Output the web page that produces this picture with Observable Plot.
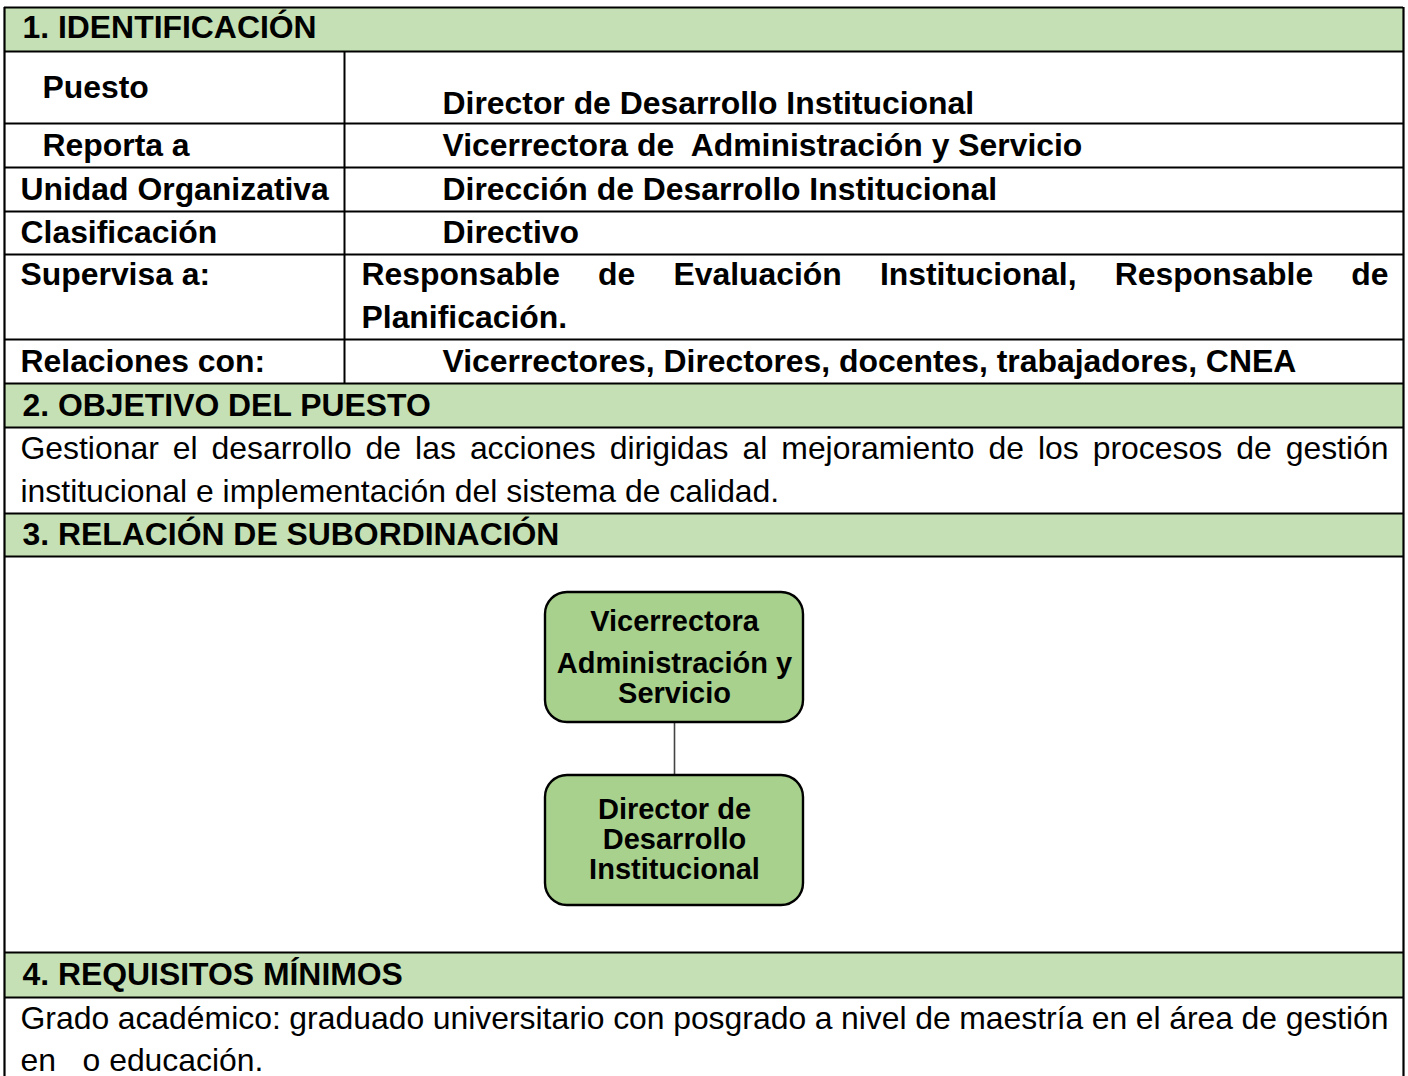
<!DOCTYPE html>
<html>
<head>
<meta charset="utf-8">
<script src="https://cdn.jsdelivr.net/npm/d3@7"></script>
<script src="https://cdn.jsdelivr.net/npm/@observablehq/plot@0.6"></script>
<style>
  html, body { margin: 0; padding: 0; background: #fff; }
  svg { display: block; }
</style>
</head>
<body>
<div id="chart"></div>
<script>
// ---------- DATA (text content) ----------
const sectionTitles = [
  "1. IDENTIFICACIÓN",
  "2. OBJETIVO DEL PUESTO",
  "3. RELACIÓN DE SUBORDINACIÓN",
  "4. REQUISITOS MÍNIMOS"
];
const fieldLabels = ["Puesto", "Reporta a", "Unidad Organizativa", "Clasificación", "Supervisa a:", "Relaciones con:"];
const fieldValues = [
  "Director de Desarrollo Institucional",
  "Vicerrectora de\u00a0 Administración y Servicio",
  "Dirección de Desarrollo Institucional",
  "Directivo",
  "Responsable de Evaluación Institucional, Responsable de|Planificación.",
  "Vicerrectores, Directores, docentes, trabajadores, CNEA"
];
const objetivoLines = [
  "Gestionar el desarrollo de las acciones dirigidas al mejoramiento de los procesos de gestión",
  "institucional e implementación del sistema de calidad."
];
const requisitosLines = [
  "Grado académico: graduado universitario con posgrado a nivel de maestría en el área de gestión",
  "en\u00a0\u00a0 o educación."
];
const orgNodes = [
  ["Vicerrectora", "Administración y", "Servicio"],
  ["Director de", "Desarrollo", "Institucional"]
];

// ---------- LAYOUT (positions / sizes / styles) ----------
const W = 1408, H = 1076;
const LEFT = 4, RIGHT = 1403, DIVIDER = 344, JUSTIFY_RIGHT = 1388;
const rowLines = [7, 51, 123, 167, 211, 254, 339, 383, 427, 513, 556, 952, 997, 1080];
const headerBands = [[7, 51], [383, 427], [513, 556], [952, 997]];
const headerTextY = [27, 405, 534, 974];
const labelX = [42, 42, 20, 20, 20, 20];
const labelY = [87, 145, 189, 232, 274, 361];
const valueX = [442, 442, 442, 442, 361, 442];
const valueY = [[103], [145], [189], [232], [274, 317], [361]];
const objetivoY = [448, 491];
const requisitosY = [1018, 1060];
const boxes = [{x1: 545, x2: 803, y1: 592, y2: 722}, {x1: 545, x2: 803, y1: 775, y2: 905}];
const boxLineY = [[621, 663, 693], [809, 839, 869]];
const GREEN_HEAD = "#c5e0b4", GREEN_BOX = "#a9d18e";
const FS = 31.9, FS_BOX = 29;
const FONT = "'Liberation Sans', Arial, Helvetica, sans-serif";

// build tables
const headerTexts = sectionTitles.map((t, i) => ({t, x: 22, y: headerTextY[i]}));
const labelTexts = fieldLabels.map((t, i) => ({t, x: labelX[i], y: labelY[i]}));
const valuePlain = [];
const valueJust = [];
fieldValues.forEach((v, i) => {
  const parts = v.split("|");
  parts.forEach((p, j) => {
    const rec = {t: p, x: valueX[i], y: valueY[i][j]};
    if (parts.length > 1 && j < parts.length - 1) valueJust.push(rec); else valuePlain.push(rec);
  });
});
const bodyJust = [
  {t: objetivoLines[0], x: 20, y: objetivoY[0]},
  {t: requisitosLines[0], x: 20, y: requisitosY[0]}
];
const bodyPlain = [
  {t: objetivoLines[1], x: 20, y: objetivoY[1]},
  {t: requisitosLines[1], x: 20, y: requisitosY[1]}
];
const justifiedSet = new Set([...valueJust, ...bodyJust].map(d => d.t));
const boxTexts = orgNodes.flatMap((lines, b) => lines.map((t, k) => ({t, x: (boxes[b].x1 + boxes[b].x2) / 2, y: boxLineY[b][k]})));
const connector = [{x: (boxes[0].x1 + boxes[0].x2) / 2, y1: boxes[0].y2, y2: boxes[1].y1}];

const plot = Plot.plot({
  width: W,
  height: H,
  margin: 0,
  x: {domain: [0, W], range: [0, W], axis: null},
  y: {domain: [0, H], range: [0, H], axis: null},
  style: {fontFamily: FONT, background: "#fff", overflow: "visible"},
  marks: [
    Plot.rect(headerBands, {x1: LEFT, x2: RIGHT, y1: d => d[0], y2: d => d[1], fill: GREEN_HEAD}),
    Plot.ruleY(rowLines, {x1: LEFT, x2: RIGHT, stroke: "#000", strokeWidth: 2.2}),
    Plot.ruleX([LEFT, RIGHT], {y1: rowLines[0], y2: H + 5, stroke: "#000", strokeWidth: 2.2}),
    Plot.ruleX([DIVIDER], {y1: rowLines[1], y2: rowLines[7], stroke: "#000", strokeWidth: 2}),
    Plot.ruleX(connector, {x: "x", y1: "y1", y2: "y2", stroke: "#444", strokeWidth: 1.6}),
    Plot.rect(boxes, {x1: "x1", x2: "x2", y1: "y1", y2: "y2", fill: GREEN_BOX, stroke: "#000", strokeWidth: 2.4, rx: 22}),
    Plot.text(headerTexts, {x: "x", y: "y", text: "t", textAnchor: "start", lineAnchor: "middle", fontSize: FS, fontWeight: "bold", fill: "#000"}),
    Plot.text(labelTexts, {x: "x", y: "y", text: "t", textAnchor: "start", lineAnchor: "middle", fontSize: FS, fontWeight: "bold", fill: "#000"}),
    Plot.text(valuePlain, {x: "x", y: "y", text: "t", textAnchor: "start", lineAnchor: "middle", fontSize: FS, fontWeight: "bold", fill: "#000"}),
    Plot.text(valueJust, {x: "x", y: "y", text: "t", textAnchor: "start", lineAnchor: "middle", fontSize: FS, fontWeight: "bold", fill: "#000"}),
    Plot.text(bodyPlain, {x: "x", y: "y", text: "t", textAnchor: "start", lineAnchor: "middle", fontSize: FS, fill: "#000"}),
    Plot.text(bodyJust, {x: "x", y: "y", text: "t", textAnchor: "start", lineAnchor: "middle", fontSize: FS, fill: "#000"}),
    Plot.text(boxTexts, {x: "x", y: "y", text: "t", textAnchor: "middle", lineAnchor: "middle", fontSize: FS_BOX, fontWeight: "bold", fill: "#000"})
  ]
});
document.getElementById("chart").appendChild(plot);

// justify lines: split into word tspans and spread the extra width across the gaps
const SVGNS = "http://www.w3.org/2000/svg";
plot.querySelectorAll("text").forEach(el => {
  if (!justifiedSet.has(el.textContent)) return;
  const words = el.textContent.split(" ");
  if (words.length < 2) return;
  const x0 = +el.getAttribute("x") || 0;
  let tx = 0;
  const tr = el.getAttribute("transform") || "";
  const m = tr.match(/translate\(\s*([-\d.e]+)/);
  if (m) tx = +m[1];
  const start = x0 + tx;
  el.textContent = "";
  const spans = words.map(w => {
    const t = document.createElementNS(SVGNS, "tspan");
    t.textContent = w;
    el.appendChild(t);
    return t;
  });
  const widths = spans.map(t => t.getComputedTextLength());
  const total = widths.reduce((a, b) => a + b, 0);
  const gap = (JUSTIFY_RIGHT - start - total) / (words.length - 1);
  let cx = x0;
  spans.forEach((t, i) => {
    t.setAttribute("x", cx);
    cx += widths[i] + gap;
  });
});
</script>
</body>
</html>
